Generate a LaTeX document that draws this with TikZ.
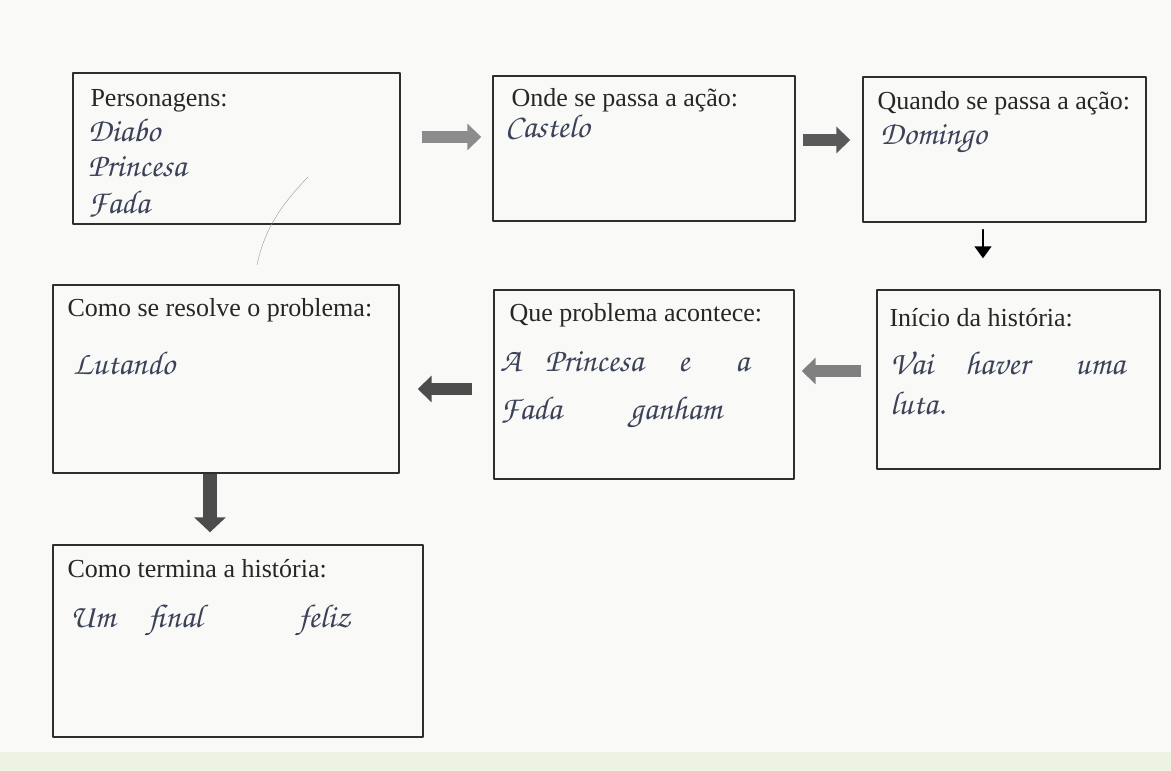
\documentclass[tikz,border=0pt]{standalone}
\usepackage{fontspec}
\setmainfont{Liberation Serif}
\usepackage[T1,TU]{fontenc}
\usepackage{tikz}
\usetikzlibrary{arrows.meta,positioning}
\definecolor{paper}{HTML}{F9FAF8}
\definecolor{paperstrip}{HTML}{EEF2E3}
\definecolor{ink}{HTML}{3C4258}
\definecolor{boxline}{HTML}{2E2E2E}
\newcommand{\handfont}{\fontencoding{T1}\fontfamily{pzc}\fontseries{mb}\fontshape{it}\selectfont}
\tikzset{
  every picture/.append style={line cap=round,line join=round},
  story box/.style={draw=boxline,line width=1.4pt,rectangle,inner sep=0pt},
  story title/.style={anchor=base west,inner sep=0pt,text=black!85,font=\fontsize{26}{30}\selectfont},
  story hand/.style={anchor=base west,inner sep=0pt,text=ink,font=\handfont\fontsize{33}{36}\selectfont},
  block arrow/.style={line width=12pt,line cap=butt,line join=miter,-{Triangle[length=14pt,width=26pt]}},
  pen arrow/.style={line width=1.6pt,-{Triangle[length=12pt,width=17pt]}}
}

\begin{document}
\begin{tikzpicture}[x=1pt,y=1pt]
  \fill[paper] (0,0) rectangle (1171,771);
  \fill[paperstrip] (0,0) rectangle (1171,19);
  \useasboundingbox (0,0) rectangle (1171,771);
  % the seven boxes
  \node[story box,minimum width=327pt,minimum height=151pt] (personagens) at (236.5,622.5) {};
  \node[story box,minimum width=302pt,minimum height=145pt] (onde) at (644,622.5) {};
  \node[story box,minimum width=283pt,minimum height=145pt] (quando) at (1004.5,621.5) {};
  \node[story box,minimum width=283pt,minimum height=179pt] (inicio) at (1018.5,391.5) {};
  \node[story box,minimum width=300pt,minimum height=189pt] (problema) at (644,386.5) {};
  \node[story box,minimum width=346pt,minimum height=188pt] (resolve) at (226,392) {};
  \node[story box,minimum width=370pt,minimum height=192pt] (termina) at (238,130) {};
  % printed questions
  \node[story title] (t-personagens) at ([shift={(18,-34)}]personagens.north west) {Personagens:};
  \node[story title] (t-onde) at ([shift={(19,-31)}]onde.north west) {Onde se passa a ação:};
  \node[story title] (t-quando) at ([shift={(15,-33)}]quando.north west) {Quando se passa a ação:};
  \node[story title] (t-inicio) at ([shift={(13,-37)}]inicio.north west) {Início da história:};
  \node[story title] (t-problema) at ([shift={(16,-32)}]problema.north west) {Que problema acontece:};
  \node[story title] (t-resolve) at ([shift={(15,-32)}]resolve.north west) {Como se resolve o problema:};
  \node[story title] (t-termina) at ([shift={(15,-33)}]termina.north west) {Como termina a história:};
  % handwritten answers
  \foreach \w/\x/\y [count=\i] in {Diabo/88/629,Princesa/88/594,Fada/88/557,
      Castelo/505/633,Domingo/880/626,
      Vai/890/396,haver/965/396,uma/1075/396,luta./890/356,
      A/500/399,Princesa/545/399,e/678/399,a/735/399,Fada/500/351,ganham/630/351,
      Lutando/73/396,Um/70/143,final/148/143,feliz/298/143}
    \node[story hand] (hand-\i) at (\x,\y) {\w};
  % arrows between the boxes
  \draw[block arrow,color=black!45] ([shift={(21,11.5)}]personagens.east) -- ([shift={(-11,11.5)}]onde.west);
  \draw[block arrow,color=black!65] ([shift={(7,8.5)}]onde.east) -- ([shift={(-12,9.5)}]quando.west);
  \draw[pen arrow] ([shift={(-21.5,-7)}]quando.south) -- ([shift={(-35.5,31)}]inicio.north);
  \draw[block arrow,color=black!50] ([shift={(-15,8.5)}]inicio.west) -- ([shift={(7,13.5)}]problema.east);
  \draw[block arrow,color=black!70] ([shift={(-21,-4.5)}]problema.west) -- ([shift={(18,-10)}]resolve.east);
  \draw[block arrow,line width=14pt,color=black!70,-{Triangle[length=15pt,width=31pt]}]
    ([shift={(-16,0)}]resolve.south) -- ([shift={(-28,12)}]termina.north);
  % stray pencil mark on the sheet
  \draw[black!40,thin] (308,594) .. controls (285,570) and (265,545) .. (257,506);
\end{tikzpicture}
\end{document}
